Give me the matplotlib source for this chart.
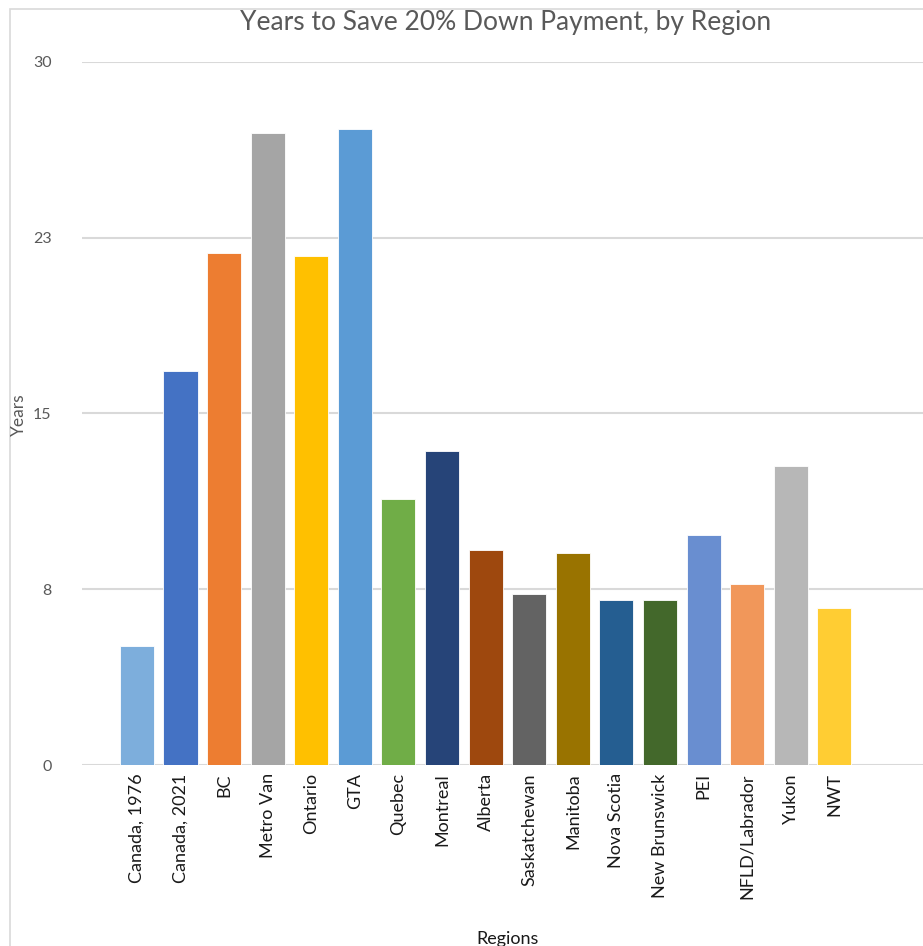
import numpy as np
import matplotlib.pyplot as plt
from matplotlib.patches import Rectangle

# data
regions = ["Canada, 1976", "Canada, 2021", "BC", "Metro Van", "Ontario", "GTA",
           "Quebec", "Montreal", "Alberta", "Saskatchewan", "Manitoba",
           "Nova Scotia", "New Brunswick", "PEI", "NFLD/Labrador", "Yukon", "NWT"]
years = [5.1, 16.8, 21.85, 26.97, 21.72, 27.14, 11.35, 13.4, 9.18, 7.3, 9.05,
         7.04, 7.04, 9.82, 7.72, 12.76, 6.7]
bar_colors = ["#7DAEDC", "#4472C4", "#ED7D31", "#A5A5A5", "#FFC000", "#5B9BD5",
              "#70AD47", "#264478", "#9E480E", "#636363", "#997300", "#255E91",
              "#43682B", "#698ED0", "#F1975A", "#B7B7B7", "#FFCD33"]
ytick_vals = [0, 7.5, 15, 22.5, 30]
ytick_labels = ["0", "8", "15", "23", "30"]

plt.rcParams['font.family'] = ['Lato', 'DejaVu Sans']

fig = plt.figure(figsize=(9.23, 9.46), dpi=100)
ax = fig.add_axes([0.0888, 0.1913, 0.9112, 0.7432])

x = np.arange(len(regions))
ax.bar(x, years, width=0.78, color=bar_colors, edgecolor="white", linewidth=0.6, zorder=3)

ax.set_ylim(0, 30)
ax.set_xlim(-1.26, 18.03)
ax.set_yticks(ytick_vals)
ax.set_yticklabels(ytick_labels, color="#595959", fontsize=11.5)
ax.set_xticks(x)
ax.set_xticklabels(regions, rotation=90, fontsize=13, color="#1a1a1a")
ax.tick_params(axis="both", length=0)
ax.tick_params(axis="y", pad=22)
ax.tick_params(axis="x", pad=6)
ax.grid(axis="y", color="#D9D9D9", linewidth=1.5, zorder=0)
for s in ax.spines.values():
    s.set_visible(False)

fig.text(19 / 923, 0.5613, "Years", rotation=90, ha="center", va="center",
         fontsize=12.5, color="#595959")

fig.text(0.548, 0.9757, "Years to Save 20% Down Payment, by Region",
         ha="center", va="center", fontsize=19, color="#595959")
fig.text(0.55, 0.0075, "Regions", ha="center", va="center", fontsize=13, color="#1a1a1a")

# chart frame
fig.patches.append(Rectangle((9.5 / 923, -0.1), 1.2, 1.1 - 9 / 946, transform=fig.transFigure,
                             fill=False, edgecolor="#D9D9D9", linewidth=1.2))

fig.savefig("out.png", dpi=100)
